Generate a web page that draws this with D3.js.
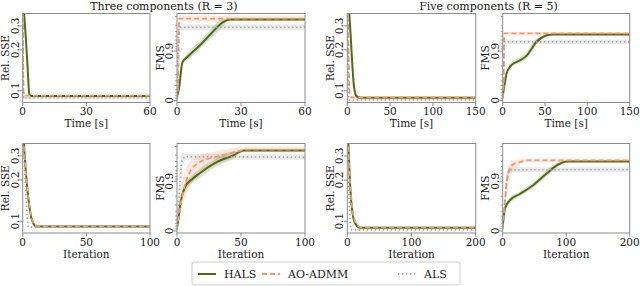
<!DOCTYPE html>
<html>
<head>
<meta charset="utf-8">
<script src="https://cdn.jsdelivr.net/npm/d3@7"></script>
<style>
  body { margin: 0; background: #fff; }
  svg { display: block; }
</style>
</head>
<body>
<div class="canvas"></div>
<script>
// each point: [x, mean, lo, hi]  (lo/hi = spread band, optional)
const r3TimeSseHals = [[0, 0.6], [0.7, 0.37], [1.5, 0.24], [2.3, 0.15], [3.1, 0.095, 0.092, 0.099], [4, 0.0915], [60, 0.0915]];
const r3TimeSseAdmm = [[0, 0.6], [0.15, 0.3], [0.3, 0.12], [0.5, 0.092, 0.0905, 0.0935], [60, 0.092, 0.0905, 0.0935]];
const r3TimeSseAls = [[0, 0.5], [0.2, 0.2], [0.4, 0.0885, 0.087, 0.09], [60, 0.0885, 0.087, 0.09]];

const r3TimeFmsHals = [[0, 0.17], [1, 0.45], [2.5, 0.83], [5, 0.87, 0.85, 0.89], [10.8, 0.924, 0.91, 0.937], [16, 0.956, 0.945, 0.964], [21.6, 0.974, 0.968, 0.978], [25, 0.977], [60, 0.977]];
const r3TimeFmsAdmm = [[0, 0.05], [0.5, 0.5], [1, 0.978, 0.975, 0.981], [60, 0.978, 0.975, 0.981]];
const r3TimeFmsAls = [[0, 0.1], [0.5, 0.9], [1, 0.967, 0.962, 0.971], [60, 0.967, 0.962, 0.971]];

const r5TimeSseHals = [[0, 0.6], [2.3, 0.37], [4, 0.25], [6, 0.15, 0.14, 0.17], [8, 0.105, 0.1, 0.115], [11, 0.091, 0.089, 0.095], [15, 0.089], [150, 0.089]];
const r5TimeSseAdmm = [[0, 0.6], [1, 0.3], [2, 0.13], [3, 0.092], [5, 0.0895, 0.088, 0.091], [150, 0.0895, 0.088, 0.091]];
const r5TimeSseAls = [[0, 0.5], [1, 0.2], [2, 0.0855, 0.0845, 0.0865], [150, 0.0855, 0.0845, 0.0865]];

const r5TimeFmsHals = [[0, 0.18], [2, 0.5], [4.7, 0.72], [10.6, 0.81, 0.79, 0.835], [20, 0.845, 0.825, 0.865], [28, 0.875, 0.855, 0.895], [40, 0.935, 0.925, 0.944], [52, 0.952], [60, 0.954], [150, 0.954]];
const r5TimeFmsAdmm = [[0, 0.1], [1, 0.4], [1.8, 0.956, 0.952, 0.959], [150, 0.956, 0.952, 0.959]];
const r5TimeFmsAls = [[0, 0.1], [1, 0.5], [2, 0.935, 0.928, 0.941], [150, 0.935, 0.928, 0.941]];

const r3IterSseHals = [[0, 0.6], [1, 0.37], [3, 0.2], [6, 0.115], [9, 0.094], [11, 0.0915], [100, 0.0915]];
const r3IterSseAdmm = [[0, 0.6], [1, 0.36], [3, 0.2, 0.19, 0.21], [6, 0.117, 0.11, 0.125], [9, 0.095, 0.093, 0.098], [12, 0.092, 0.0905, 0.0935], [100, 0.092, 0.0905, 0.0935]];
const r3IterSseAls = [[0, 0.5], [2, 0.19], [3.5, 0.11], [4.5, 0.0905], [100, 0.0905]];

const r3IterFmsHals = [[0, 0.13], [1, 0.4], [3, 0.75], [6.3, 0.87, 0.84, 0.89], [12, 0.91, 0.89, 0.925], [18, 0.932, 0.915, 0.945], [31, 0.959, 0.95, 0.966], [44, 0.97, 0.965, 0.975], [52, 0.976], [100, 0.976]];
const r3IterFmsAdmm = [[0, 0.1], [1, 0.4], [3, 0.72, 0.6, 0.85], [8.8, 0.924, 0.85, 0.955], [18, 0.959, 0.93, 0.97], [31, 0.968, 0.955, 0.975], [45, 0.974, 0.968, 0.979], [55, 0.977, 0.974, 0.98], [100, 0.977, 0.974, 0.98]];
const r3IterFmsAls = [[0, 0.05], [2, 0.85, 0.7, 0.93], [4, 0.962, 0.94, 0.973], [7, 0.968, 0.963, 0.972], [100, 0.967, 0.963, 0.971]];

const r5IterSseHals = [[0, 0.6], [1.6, 0.37], [4, 0.2], [7, 0.127, 0.12, 0.135], [12, 0.097, 0.094, 0.101], [20, 0.0895], [200, 0.0895]];
const r5IterSseAdmm = [[0, 0.6], [1.5, 0.37], [4, 0.21], [7, 0.135, 0.125, 0.145], [12, 0.1, 0.096, 0.105], [22, 0.09, 0.0888, 0.0915], [200, 0.09, 0.0888, 0.0915]];
const r5IterSseAls = [[0, 0.5], [2, 0.2], [4, 0.105], [6, 0.0865, 0.0855, 0.0875], [200, 0.0865, 0.0855, 0.0875]];

const r5IterFmsHals = [[0, 0.18], [3.6, 0.65], [11.5, 0.76, 0.73, 0.79], [27, 0.82, 0.8, 0.84], [48, 0.88, 0.865, 0.895], [69, 0.93, 0.92, 0.94], [85, 0.952, 0.946, 0.957], [101, 0.96], [200, 0.96]];
const r5IterFmsAdmm = [[0, 0.1], [3, 0.7], [6.3, 0.89, 0.8, 0.93], [14, 0.952, 0.93, 0.962], [27, 0.959, 0.955, 0.964], [40, 0.962, 0.959, 0.965], [200, 0.962, 0.959, 0.965]];
const r5IterFmsAls = [[0, 0.1], [3, 0.7], [6, 0.9, 0.85, 0.93], [11.5, 0.941, 0.934, 0.948], [200, 0.942, 0.935, 0.948]];

const sseTicks = [0.1, 0.2, 0.3];
const fmsTicks = [0, 0.9];
const fmsMinorTicks = [0.1, 0.2, 0.3, 0.4, 0.5, 0.6, 0.7, 0.8, 0.91, 0.92, 0.93, 0.94, 0.95, 0.96, 0.97, 0.98];
const methods = ['HALS', 'AO-ADMM', 'ALS'];
const titles = ['Three components (R = 3)', 'Five components (R = 5)'];

const colours = { 'HALS': '#4e6b16', 'AO-ADMM': '#f29a6c', 'ALS': '#a6a6a6' };
const bandColours = { 'HALS': 'rgba(110,130,60,0.25)', 'AO-ADMM': 'rgba(242,154,108,0.22)', 'ALS': 'rgba(160,160,160,0.22)' };
const dashes = { 'HALS': null, 'AO-ADMM': '5,3', 'ALS': '1.4,2.6' };
const widths = { 'HALS': 2, 'AO-ADMM': 1.8, 'ALS': 1.6 };

const rows = [{ top: 13.5, bottom: 102.5 }, { top: 143.5, bottom: 233 }];
const cols = [[22.7, 150], [177, 305], [347.3, 475.7], [502.7, 629.7]];

const panels = [
  { row: 0, col: 0, kind: 'sse', xMax: 60, xTicks: [0, 30, 60], xLabel: 'Time [s]', series: [r3TimeSseHals, r3TimeSseAdmm, r3TimeSseAls] },
  { row: 0, col: 1, kind: 'fms', xMax: 60, xTicks: [0, 30, 60], xLabel: 'Time [s]', series: [r3TimeFmsHals, r3TimeFmsAdmm, r3TimeFmsAls] },
  { row: 0, col: 2, kind: 'sse', xMax: 150, xTicks: [0, 50, 100, 150], xLabel: 'Time [s]', series: [r5TimeSseHals, r5TimeSseAdmm, r5TimeSseAls] },
  { row: 0, col: 3, kind: 'fms', xMax: 150, xTicks: [0, 50, 100, 150], xLabel: 'Time [s]', series: [r5TimeFmsHals, r5TimeFmsAdmm, r5TimeFmsAls] },
  { row: 1, col: 0, kind: 'sse', xMax: 100, xTicks: [0, 50, 100], xLabel: 'Iteration', series: [r3IterSseHals, r3IterSseAdmm, r3IterSseAls] },
  { row: 1, col: 1, kind: 'fms', xMax: 100, xTicks: [0, 50, 100], xLabel: 'Iteration', series: [r3IterFmsHals, r3IterFmsAdmm, r3IterFmsAls] },
  { row: 1, col: 2, kind: 'sse', xMax: 200, xTicks: [0, 100, 200], xLabel: 'Iteration', series: [r5IterSseHals, r5IterSseAdmm, r5IterSseAls] },
  { row: 1, col: 3, kind: 'fms', xMax: 200, xTicks: [0, 100, 200], xLabel: 'Iteration', series: [r5IterFmsHals, r5IterFmsAdmm, r5IterFmsAls] },
];

const serif = '"DejaVu Serif", "Liberation Serif", "Times New Roman", serif';
const svg = d3.select('.canvas').append('svg')
  .attr('width', 640).attr('height', 286)
  .attr('font-family', serif);
const textColour = '#1a1a1a';
const frameColour = '#8c8c8c';

// titles above each pair of columns
titles.forEach((t, i) => {
  svg.append('text')
    .attr('x', (cols[i * 2][0] + cols[i * 2 + 1][1]) / 2)
    .attr('y', 10)
    .attr('text-anchor', 'middle')
    .attr('font-family', serif)
    .attr('font-size', 11)
    .attr('fill', textColour)
    .text(t);
});

panels.forEach((p, idx) => {
  const [left, right] = cols[p.col];
  const { top, bottom } = rows[p.row];
  const x = d3.scaleLinear().domain([0, p.xMax]).range([left, right]);

  // SSE on log axis, FMS on -log10(1 - fms) axis
  let y;
  if (p.kind === 'sse') {
    y = d3.scaleLog().domain([0.082, 0.37]).range([bottom, top]);
  } else {
    const lin = d3.scaleLinear().domain([-0.04, 1.76]).range([bottom, top]);
    y = (v) => lin(-Math.log10(Math.max(1e-4, 1 - v)));
  }

  const g = svg.append('g').attr('font-family', serif);
  const clipId = `clip${idx}`;
  svg.append('clipPath').attr('id', clipId)
    .append('rect').attr('x', left).attr('y', top).attr('width', right - left).attr('height', bottom - top);
  const plot = g.append('g').attr('clip-path', `url(#${clipId})`);

  const area = d3.area()
    .x((d) => x(d[0]))
    .y0((d) => y(d[2] !== undefined ? d[2] : d[1]))
    .y1((d) => y(d[3] !== undefined ? d[3] : d[1]))
    .curve(d3.curveMonotoneX);
  const line = d3.line()
    .x((d) => x(d[0]))
    .y((d) => y(d[1]))
    .curve(d3.curveMonotoneX);

  // bands first, then lines (ALS under AO-ADMM under HALS)
  [2, 1, 0].forEach((m) => {
    plot.append('path').attr('d', area(p.series[m])).attr('fill', bandColours[methods[m]]);
  });
  [0, 1, 2].forEach((m) => {
    plot.append('path')
      .attr('d', line(p.series[m]))
      .attr('fill', 'none')
      .attr('stroke', colours[methods[m]])
      .attr('stroke-width', widths[methods[m]])
      .attr('stroke-dasharray', dashes[methods[m]]);
  });

  // frame
  g.append('rect')
    .attr('x', left).attr('y', top)
    .attr('width', right - left).attr('height', bottom - top)
    .attr('fill', 'none').attr('stroke', frameColour).attr('stroke-width', 1);

  // x ticks
  p.xTicks.forEach((t) => {
    g.append('line').attr('x1', x(t)).attr('x2', x(t)).attr('y1', bottom).attr('y2', bottom + 3.5)
      .attr('stroke', frameColour);
    g.append('text').attr('x', x(t)).attr('y', bottom + 12.5)
      .attr('text-anchor', 'middle').attr('font-size', 10.5).attr('fill', textColour).text(t);
  });
  g.append('text').attr('x', (left + right) / 2).attr('y', bottom + 24.5)
    .attr('text-anchor', 'middle').attr('font-size', 10.5).attr('fill', textColour).text(p.xLabel);

  // y ticks, labels rotated as in the original
  const majors = p.kind === 'sse' ? sseTicks : fmsTicks;
  if (p.kind === 'fms') {
    fmsMinorTicks.forEach((t) => {
      g.append('line').attr('x1', left).attr('x2', left - 2).attr('y1', y(t)).attr('y2', y(t))
        .attr('stroke', frameColour).attr('stroke-width', 0.8);
    });
  }
  majors.forEach((t) => {
    g.append('line').attr('x1', left).attr('x2', left - 3.5).attr('y1', y(t)).attr('y2', y(t))
      .attr('stroke', frameColour);
    g.append('text')
      .attr('transform', `translate(${left - 4},${y(t)}) rotate(-90)`)
      .attr('text-anchor', 'middle').attr('font-size', 10.5).attr('fill', textColour).text(t);
  });
  const yl = p.kind === 'sse' ? 'Rel. SSE' : 'FMS';
  g.append('text')
    .attr('transform', `translate(${left - 13.5},${(top + bottom) / 2}) rotate(-90)`)
    .attr('text-anchor', 'middle').attr('font-size', 10.5).attr('fill', textColour).text(yl);
});

// legend
const legend = svg.append('g').attr('transform', 'translate(192, 262)').attr('font-family', serif);
legend.append('rect').attr('x', 0).attr('y', 0).attr('width', 268).attr('height', 23)
  .attr('rx', 2).attr('fill', '#fff').attr('stroke', '#cccccc');
const legendX = [6, 70, 206];
methods.forEach((m, i) => {
  legend.append('line')
    .attr('x1', legendX[i]).attr('x2', legendX[i] + 18).attr('y1', 12).attr('y2', 12)
    .attr('stroke', colours[m]).attr('stroke-width', widths[m]).attr('stroke-dasharray', dashes[m]);
  legend.append('text').attr('x', legendX[i] + 26).attr('y', 16)
    .attr('font-size', 11).attr('fill', textColour).text(m);
});
</script>
</body>
</html>
